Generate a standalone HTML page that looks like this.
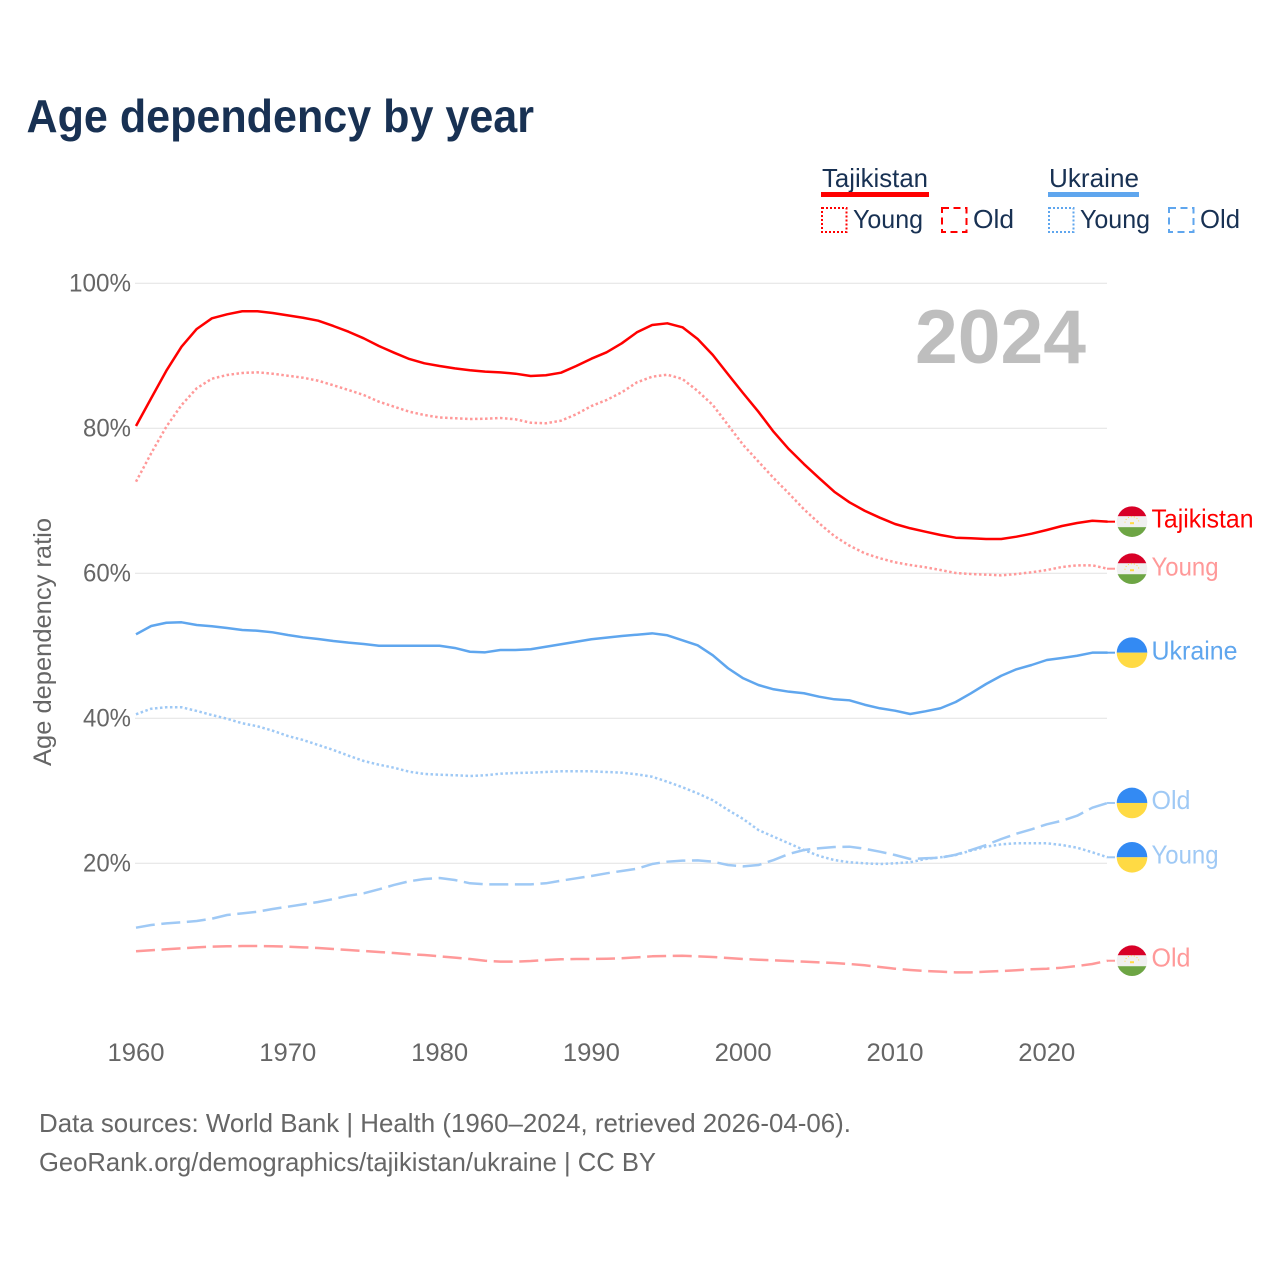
<!DOCTYPE html>
<html lang="en">
<head>
<meta charset="utf-8">
<title>Age dependency by year</title>
<style>
html,body{margin:0;padding:0;background:#fff;width:1280px;height:1280px;overflow:hidden}
svg{display:block}
text{font-family:"Liberation Sans",sans-serif;}
</style>
</head>
<body>
<svg id="chart" xmlns="http://www.w3.org/2000/svg" width="1280" height="1280" viewBox="0 0 1280 1280">
  <rect width="1280" height="1280" fill="#fff"/>
  <text x="26.5" y="132" font-size="46" font-weight="bold" fill="#183153" textLength="507.5" lengthAdjust="spacingAndGlyphs">Age dependency by year</text>

  <g font-size="26" fill="#183153">
    <text x="822" y="187" textLength="106" lengthAdjust="spacingAndGlyphs">Tajikistan</text>
    <rect x="821" y="192" width="108" height="5" fill="#ff0000"/>
    <rect x="822" y="208" width="24.5" height="24" fill="none" stroke="#ff0000" stroke-width="2" stroke-dasharray="2,2"/>
    <text x="853" y="228" textLength="70" lengthAdjust="spacingAndGlyphs">Young</text>
    <rect x="942" y="208" width="24.5" height="24" fill="none" stroke="#ff0000" stroke-width="2" stroke-dasharray="7,4.5"/>
    <text x="973" y="228" textLength="41" lengthAdjust="spacingAndGlyphs">Old</text>

    <text x="1049" y="187" textLength="90" lengthAdjust="spacingAndGlyphs">Ukraine</text>
    <rect x="1048" y="192" width="91" height="5" fill="#5fa6ee"/>
    <rect x="1049" y="208" width="24.5" height="24" fill="none" stroke="#5fa6ee" stroke-width="2" stroke-dasharray="2,2"/>
    <text x="1080" y="228" textLength="70" lengthAdjust="spacingAndGlyphs">Young</text>
    <rect x="1169" y="208" width="24.5" height="24" fill="none" stroke="#5fa6ee" stroke-width="2" stroke-dasharray="7,4.5"/>
    <text x="1200" y="228" textLength="40" lengthAdjust="spacingAndGlyphs">Old</text>
  </g>

  <g id="grid"></g>
  <g id="yticks"></g>
  <g id="xticks"></g>
  <text transform="translate(51 642) rotate(-90)" text-anchor="middle" font-size="25" fill="#666666" textLength="248" lengthAdjust="spacingAndGlyphs">Age dependency ratio</text>
  <text x="915" y="363" font-size="76" font-weight="bold" fill="#bebebe" textLength="171" lengthAdjust="spacingAndGlyphs">2024</text>
  <g id="series"></g>
  <g id="labels"></g>

  <text x="39" y="1132" font-size="26" fill="#666666" textLength="812" lengthAdjust="spacingAndGlyphs">Data sources: World Bank | Health (1960–2024, retrieved 2026-04-06).</text>
  <text x="39" y="1171" font-size="26" fill="#666666" textLength="617" lengthAdjust="spacingAndGlyphs">GeoRank.org/demographics/tajikistan/ukraine | CC BY</text>
</svg>
<script>
const years = [1960,1961,1962,1963,1964,1965,1966,1967,1968,1969,1970,1971,1972,1973,1974,1975,1976,1977,1978,1979,1980,1981,1982,1983,1984,1985,1986,1987,1988,1989,1990,1991,1992,1993,1994,1995,1996,1997,1998,1999,2000,2001,2002,2003,2004,2005,2006,2007,2008,2009,2010,2011,2012,2013,2014,2015,2016,2017,2018,2019,2020,2021,2022,2023,2024];
const tajikistanTotal = [80.28,84.10,87.90,91.21,93.66,95.13,95.68,96.10,96.10,95.86,95.54,95.21,94.80,94.07,93.28,92.37,91.31,90.39,89.52,88.92,88.55,88.23,87.96,87.77,87.68,87.49,87.17,87.27,87.63,88.55,89.56,90.44,91.68,93.20,94.21,94.44,93.89,92.28,90.07,87.41,84.79,82.25,79.49,77.10,75.03,73.10,71.21,69.75,68.59,67.63,66.76,66.17,65.70,65.24,64.87,64.79,64.69,64.69,65.01,65.42,65.93,66.48,66.90,67.21,67.08];
const tajikistanYoung = [72.59,76.51,80.18,83.17,85.48,86.80,87.31,87.59,87.68,87.49,87.21,86.94,86.52,85.89,85.24,84.55,83.63,82.94,82.25,81.79,81.45,81.34,81.24,81.28,81.38,81.20,80.73,80.65,81.01,81.89,83.03,83.86,84.92,86.30,87.08,87.35,86.76,85.10,83.17,80.41,77.66,75.38,73.10,70.99,68.79,66.86,65.10,63.77,62.72,62.03,61.48,61.10,60.79,60.41,60.00,59.86,59.77,59.68,59.86,60.10,60.41,60.83,61.06,61.06,60.59];
const tajikistanOld = [7.82,7.96,8.10,8.23,8.37,8.46,8.51,8.55,8.55,8.51,8.46,8.37,8.28,8.14,8.00,7.86,7.72,7.59,7.41,7.31,7.13,6.94,6.76,6.52,6.39,6.39,6.48,6.62,6.72,6.76,6.76,6.80,6.86,6.99,7.13,7.17,7.21,7.13,7.03,6.90,6.76,6.66,6.58,6.48,6.39,6.30,6.21,6.07,5.89,5.66,5.42,5.24,5.10,5.01,4.92,4.92,5.01,5.10,5.20,5.34,5.42,5.56,5.79,6.07,6.52];
const ukraineTotal = [51.54,52.69,53.14,53.20,52.83,52.65,52.41,52.14,52.04,51.82,51.45,51.13,50.90,50.62,50.39,50.21,49.97,49.97,49.97,49.97,49.97,49.66,49.14,49.06,49.38,49.38,49.48,49.83,50.17,50.52,50.86,51.08,51.31,51.49,51.68,51.41,50.72,50.03,48.65,46.86,45.48,44.55,43.96,43.63,43.41,42.94,42.58,42.44,41.83,41.34,41.01,40.55,40.92,41.34,42.21,43.41,44.69,45.83,46.72,47.31,48.00,48.28,48.59,49.01,49.01];
const ukraineYoung = [40.51,41.28,41.48,41.48,40.97,40.41,39.90,39.27,38.86,38.25,37.52,36.97,36.28,35.59,34.80,34.07,33.56,33.14,32.59,32.28,32.18,32.10,32.00,32.10,32.32,32.41,32.46,32.55,32.65,32.65,32.65,32.55,32.46,32.23,31.90,31.21,30.44,29.61,28.65,27.31,26.07,24.55,23.63,22.72,21.79,20.97,20.41,20.10,19.96,19.86,19.96,20.10,20.55,20.79,21.10,21.70,22.25,22.58,22.72,22.72,22.72,22.48,22.11,21.48,20.79];
const ukraineOld = [11.08,11.45,11.68,11.82,12.00,12.32,12.83,13.06,13.28,13.66,13.97,14.30,14.62,15.03,15.49,15.82,16.37,16.97,17.48,17.79,17.93,17.66,17.20,17.06,17.06,17.06,17.06,17.20,17.56,17.89,18.21,18.58,18.90,19.21,19.86,20.18,20.32,20.37,20.18,19.72,19.54,19.72,20.41,21.24,21.79,22.03,22.21,22.25,21.97,21.56,21.10,20.55,20.65,20.73,21.14,21.79,22.48,23.31,24.04,24.65,25.34,25.83,26.52,27.63,28.28];
const yTickValues = [20,40,60,80,100];
const yTickLabels = ['20%','40%','60%','80%','100%'];
const xTickValues = [1960,1970,1980,1990,2000,2010,2020];
const xTickLabels = ['1960','1970','1980','1990','2000','2010','2020'];

const NS = 'http://www.w3.org/2000/svg';
const xScale = function (year) { return 136 + (year - 1960) * 15.18; };
const yScale = function (value) { return 1008 - value * 7.25; };

function make(tag, attrs, parent) {
  const el = document.createElementNS(NS, tag);
  for (const k in attrs) el.setAttribute(k, attrs[k]);
  parent.appendChild(el);
  return el;
}

const gridGroup = document.getElementById('grid');
const yTickGroup = document.getElementById('yticks');
const xTickGroup = document.getElementById('xticks');
const seriesGroup = document.getElementById('series');
const labelGroup = document.getElementById('labels');

yTickValues.forEach(function (v, i) {
  const line = make('line', {x1: 135, x2: 1107, y1: yScale(v) + 0.3, y2: yScale(v) + 0.3, stroke: '#e6e6e6', 'stroke-width': 1.2}, gridGroup);
  
  
  const t = make('text', {x: 131, y: yScale(v) + 8.5, 'text-anchor': 'end', 'font-size': 25, fill: '#666666', textLength: yTickLabels[i].length === 4 ? 62 : 48, lengthAdjust: 'spacingAndGlyphs'}, yTickGroup);
  t.textContent = yTickLabels[i];
  
  
});

xTickValues.forEach(function (v, i) {
  const t = make('text', {x: xScale(v), y: 1061, 'text-anchor': 'middle', 'font-size': 25, fill: '#666666', textLength: 57, lengthAdjust: 'spacingAndGlyphs'}, xTickGroup);
  t.textContent = xTickLabels[i];
  
  
});

function drawFlag(kind, cy, key) {
  const g = make('g', {}, labelGroup);
  
  
  const clip = make('clipPath', {id: 'clip-' + key}, g);
  make('circle', {cx: 1132, cy: cy, r: 15.3}, clip);
  const inner = make('g', {'clip-path': 'url(#clip-' + key + ')'}, g);
  if (kind === 'tj') {
    make('rect', {x: 1116, y: cy - 16, width: 32, height: 32, fill: '#f0f0f0'}, inner);
    make('rect', {x: 1116, y: cy - 16, width: 32, height: 10.5, fill: '#d80027'}, inner);
    make('rect', {x: 1116, y: cy + 5.5, width: 32, height: 10.5, fill: '#6da544'}, inner);
    make('rect', {x: 1130, y: cy + 0.5, width: 4, height: 2, fill: '#ffda44'}, inner);
    make('path', {d: 'M' + 1125 + ' ' + (cy + 1) + 'a7 6 0 0 1 14 0', fill: 'none', stroke: '#ffda44', 'stroke-width': 1, 'stroke-dasharray': '1,2'}, inner);
  } else {
    make('rect', {x: 1116, y: cy - 16, width: 32, height: 16, fill: '#338af3'}, inner);
    make('rect', {x: 1116, y: cy, width: 32, height: 16, fill: '#ffda44'}, inner);
  }
}

const allSeries = [
  {key: 'tajikistan-old', values: tajikistanOld, color: '#ff9999', dash: '19,6.6', flag: 'tj', label: 'Old', width: 39, dy: 6},
  {key: 'ukraine-old', values: ukraineOld, color: '#9fc9f5', dash: '19,6.6', flag: 'ua', label: 'Old', width: 39, dy: 6},
  {key: 'ukraine-young', values: ukraineYoung, color: '#9fc9f5', dash: '2.5,2.5', flag: 'ua', label: 'Young', width: 67, dy: 6},
  {key: 'tajikistan-young', values: tajikistanYoung, color: '#ff9999', dash: '2.5,2.5', flag: 'tj', label: 'Young', width: 67, dy: 7},
  {key: 'ukraine-total', values: ukraineTotal, color: '#5fa6ee', dash: '', flag: 'ua', label: 'Ukraine', width: 86, dy: 7},
  {key: 'tajikistan-total', values: tajikistanTotal, color: '#ff0000', dash: '', flag: 'tj', label: 'Tajikistan', width: 102, dy: 6}
];

allSeries.forEach(function (s) {
  const d = s.values.map(function (v, i) {
    return (i ? 'L' : 'M') + xScale(years[i]).toFixed(2) + ' ' + yScale(v).toFixed(2);
  }).join(' ');
  const path = make('path', {d: d, fill: 'none', stroke: s.color, 'stroke-width': 2.5, 'stroke-linejoin': 'round'}, seriesGroup);
  if (s.dash) path.setAttribute('stroke-dasharray', s.dash);
  
  

  const last = s.values[s.values.length - 1];
  const endY = yScale(last);
  const conn = make('line', {x1: xScale(years[years.length - 1]) - 0.5, x2: 1115, y1: endY, y2: endY, stroke: s.color, 'stroke-width': 2}, labelGroup);
  
  

  drawFlag(s.flag, endY, s.key);

  const t = make('text', {x: 1151.5, y: endY + s.dy, 'font-size': 26, fill: s.color, textLength: s.width, lengthAdjust: 'spacingAndGlyphs'}, labelGroup);
  t.textContent = s.label;
  
  
});
</script>
</body>
</html>
